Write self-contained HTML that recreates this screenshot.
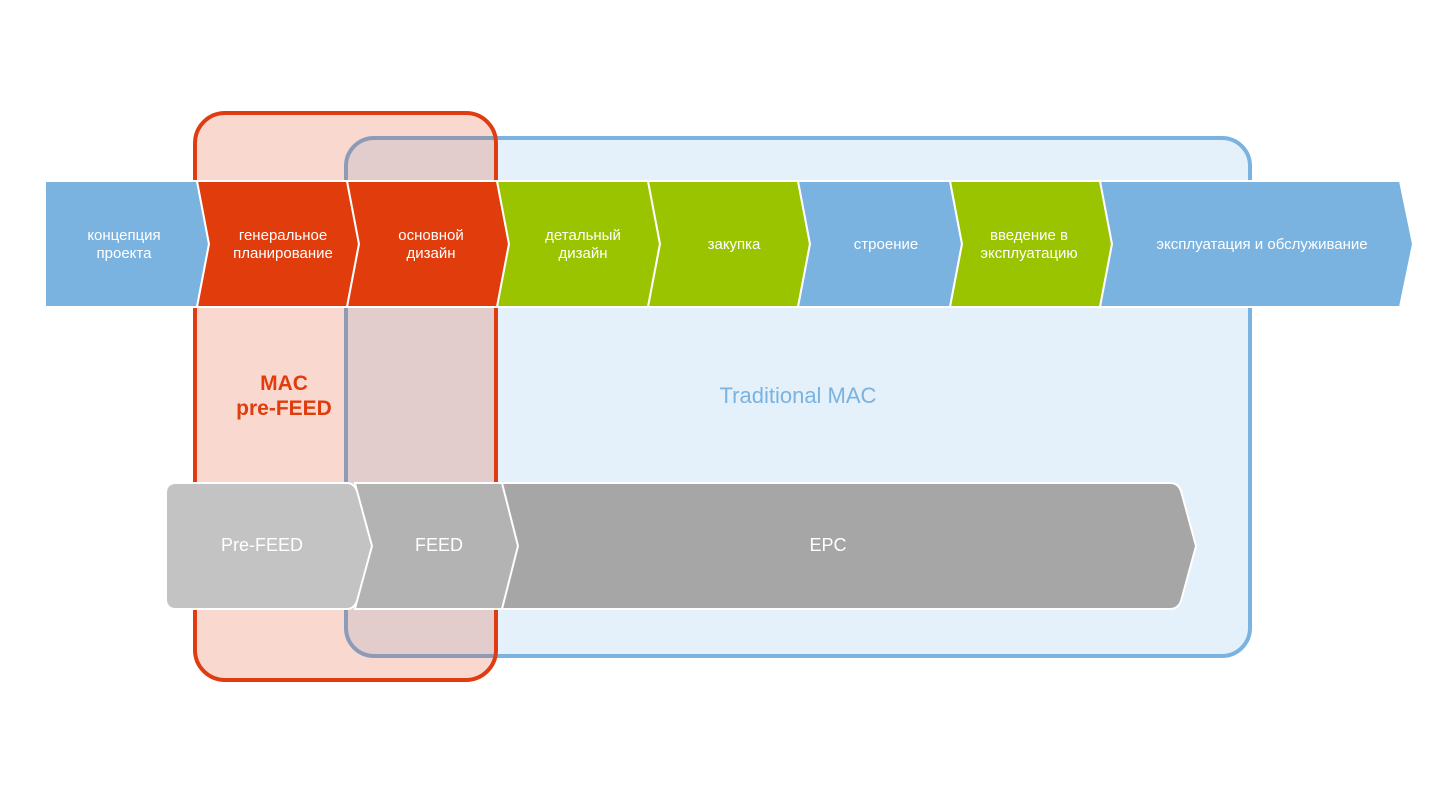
<!DOCTYPE html>
<html><head><meta charset="utf-8"><style>
html,body{margin:0;padding:0;background:#fff;}
svg{display:block;}
text{font-family:"Liberation Sans",sans-serif;}
</style></head><body>
<svg width="1440" height="811" viewBox="0 0 1440 811" xmlns="http://www.w3.org/2000/svg">
<rect x="346" y="138" width="904" height="518" rx="28" fill="#e4f0fa" stroke="#7ab3e0" stroke-width="4"/>
<rect x="195" y="113" width="301" height="567" rx="30" fill="rgba(224,60,18,0.2)" stroke="#e03c12" stroke-width="4"/>
<g stroke="#fff" stroke-width="2" stroke-linejoin="miter">
<polygon points="45,181 197,181 209,244 197,307 45,307" fill="#7ab3e0"/>
<polygon points="197,181 347,181 359,244 347,307 197,307 209,244" fill="#e03c0c"/>
<polygon points="347,181 497,181 509,244 497,307 347,307 359,244" fill="#e03c0c"/>
<polygon points="497,181 648,181 660,244 648,307 497,307 509,244" fill="#9bc400"/>
<polygon points="648,181 798,181 810,244 798,307 648,307 660,244" fill="#9bc400"/>
<polygon points="798,181 950,181 962,244 950,307 798,307 810,244" fill="#7ab3e0"/>
<polygon points="950,181 1100,181 1112,244 1100,307 950,307 962,244" fill="#9bc400"/>
<polygon points="1100,181 1400,181 1413,244 1400,307 1100,307 1112,244" fill="#7ab3e0"/>
</g>
<g fill="#fff" font-size="15" text-anchor="middle">
<text x="124" y="240">концепция</text><text x="124" y="258">проекта</text>
<text x="283" y="240">генеральное</text><text x="283" y="258">планирование</text>
<text x="431" y="240">основной</text><text x="431" y="258">дизайн</text>
<text x="583" y="240">детальный</text><text x="583" y="258">дизайн</text>
<text x="734" y="249">закупка</text>
<text x="886" y="249">строение</text>
<text x="1029" y="240">введение в</text><text x="1029" y="258">эксплуатацию</text>
<text x="1262" y="249">эксплуатация и обслуживание</text>
</g>
<g fill="#e03c0c" font-size="21" font-weight="bold" text-anchor="middle">
<text x="284" y="390">MAC</text><text x="284" y="415">pre-FEED</text>
</g>
<text x="798" y="403" fill="#7ab3e0" font-size="22" text-anchor="middle">Traditional MAC</text>
<g stroke="#fff" stroke-width="2">
<path d="M1170,483 Q1178,483 1181,491 L1196,546 L1181,601 Q1178,609 1170,609 L500,609 L516,546 L500,483 Z" fill="#a6a6a6"/>
<path d="M502,483 L518,546 L502,609 L355,609 L370,546 L355,483 Z" fill="#b3b3b3"/>
<path d="M176,483 L347,483 Q354,483 357,491 L372,546 L357,601 Q354,609 347,609 L176,609 Q166,609 166,599 L166,493 Q166,483 176,483 Z" fill="#c3c3c3"/>
</g>
<g fill="#fff" font-size="18" text-anchor="middle">
<text x="262" y="551">Pre-FEED</text>
<text x="439" y="551">FEED</text>
<text x="828" y="551">EPC</text>
</g>
</svg>
</body></html>
